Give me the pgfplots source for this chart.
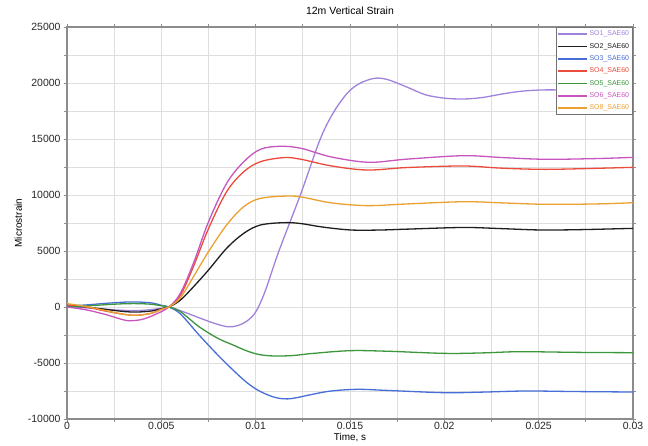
\documentclass[border=0pt]{standalone}
\usepackage{fontspec}
\setmainfont{Liberation Sans}
\usepackage{pgfplots}
\pgfplotsset{compat=1.18}
\definecolor{cSOa}{RGB}{160,130,220}
\definecolor{cSOb}{RGB}{30,30,30}
\definecolor{cSOc}{RGB}{70,110,215}
\definecolor{cSOd}{RGB}{235,75,60}
\definecolor{cSOe}{RGB}{60,150,60}
\definecolor{cSOf}{RGB}{200,85,190}
\definecolor{cSOg}{RGB}{235,160,50}
\begin{document}
\begin{tikzpicture}
\begin{axis}[
  width=566bp, height=392bp, scale only axis,
  xmin=0, xmax=0.03, ymin=-10000, ymax=25000,
  xtick={0,0.005,0.01,0.015,0.02,0.025,0.03},
  xticklabels={0,0.005,0.01,0.015,0.02,0.025,0.03},
  scaled x ticks=false, scaled y ticks=false,
  minor xtick={0.0025,0.0075,0.0125,0.0175,0.0225,0.0275},
  ytick={-10000,-5000,0,5000,10000,15000,20000,25000},
  yticklabels={-10000,-5000,0,5000,10000,15000,20000,25000},
  minor ytick={-7500,-2500,2500,7500,12500,17500,22500},
  grid=both,
  major grid style={draw=black!13, line width=0.8bp},
  minor grid style={draw=black!13, line width=0.8bp},
  extra y ticks={0}, extra y tick labels={},
  extra y tick style={grid style={draw=black!50, line width=1.2bp}, major tick length=0pt},
  axis line style={draw=black!45, line width=1.2bp},
  tick style={draw=black!45, line width=0.8bp},
  tick align=outside, major tick length=3bp,
  tick label style={font=\fontsize{10.5}{10.5}\selectfont, text=black!85},
  xticklabel style={yshift=3bp},
  title={12m Vertical Strain},
  title style={font=\fontsize{10.5}{11}\selectfont, at={(0.5,1)}, anchor=south, yshift=3bp},
  xlabel={Time, s},
  xlabel style={font=\fontsize{10}{10}\selectfont, yshift=3.5bp},
  ylabel={Microstrain},
  ylabel style={font=\fontsize{10}{10}\selectfont, yshift=-4bp},
  legend cell align=left,
  legend style={at={(rel axis cs:1,1)}, anchor=north east, font=\fontsize{7}{7}\selectfont,
    draw=black!55, line width=0.8bp, fill=white, inner sep=1.5bp, row sep=2bp},
  legend image code/.code={\draw[#1, line width=1.5bp] (0cm,0cm) -- (1.0cm,0cm);},
  every axis plot/.append style={line width=1.3bp, smooth, tension=0.55},
]
\addplot[cSOa] coordinates {
(0,0) (0.001,-80) (0.002,-200) (0.003,-300) (0.004,-300) (0.005,-120) (0.0054,0)
(0.00616,-420) (0.00706,-1000) (0.0078,-1450) (0.0085,-1760) (0.009,-1680) (0.0095,-1300)
(0.01,-450) (0.0105,1400) (0.01122,4940) (0.0124,10150) (0.0134,14900) (0.0141,17300)
(0.01485,19080) (0.0155,19950)
(0.0163,20420) (0.017,20300) (0.018,19650) (0.019,18950)
(0.02,18650) (0.021,18570) (0.022,18700) (0.023,19000) (0.024,19250) (0.025,19370)
(0.026,19380) (0.027,19300) (0.028,19250) (0.03,19300)};
\addlegendentry{\textcolor{cSOa}{SO1\_SAE60}}
\addplot[cSOb] coordinates {
(0,100) (0.001,0) (0.002,-200) (0.003,-400) (0.0037,-450) (0.0045,-350) (0.005,-150) (0.0054,0)
(0.006,600) (0.0067,1800) (0.0075,3300) (0.00846,5240) (0.00937,6580) (0.01025,7320)
(0.0115,7530) (0.0124,7450) (0.0135,7150) (0.015,6880) (0.0165,6870) (0.018,6950)
(0.021,7100) (0.023,7000) (0.025,6880) (0.027,6900) (0.03,7020)};
\addlegendentry{\textcolor{cSOb}{SO2\_SAE60}}
\addplot[cSOc] coordinates {
(0,100) (0.001,180) (0.002,320) (0.003,430) (0.0037,450) (0.0045,360) (0.005,150) (0.0054,0)
(0.006,-600) (0.007,-2500) (0.008,-4300) (0.0088,-5630) (0.0095,-6700) (0.0101,-7410)
(0.0108,-7950) (0.0114,-8190) (0.012,-8150) (0.013,-7800) (0.014,-7500) (0.0154,-7350)
(0.017,-7450) (0.02,-7650) (0.022,-7600) (0.0243,-7500) (0.027,-7550) (0.03,-7590)};
\addlegendentry{\textcolor{cSOc}{SO3\_SAE60}}
\addplot[cSOd] coordinates {
(0,200) (0.001,0) (0.002,-350) (0.003,-650) (0.0037,-740) (0.0045,-550) (0.005,-200) (0.0054,0)
(0.006,1000) (0.0067,3600) (0.0075,7000) (0.00846,10290) (0.00937,12080) (0.01025,12970)
(0.0115,13340) (0.0124,13190) (0.014,12600) (0.0159,12230) (0.018,12450)
(0.021,12590) (0.023,12400) (0.0253,12290) (0.028,12380) (0.03,12470)};
\addlegendentry{\textcolor{cSOd}{SO4\_SAE60}}
\addplot[cSOe] coordinates {
(0,0) (0.001,90) (0.002,200) (0.003,290) (0.0038,300) (0.0045,240) (0.005,110) (0.0054,0)
(0.006,-400) (0.007,-1760) (0.008,-2800) (0.0088,-3390) (0.0095,-3900) (0.0102,-4250)
(0.011,-4375) (0.012,-4330) (0.013,-4150) (0.015,-3900) (0.017,-3950) (0.02,-4140)
(0.022,-4100) (0.024,-3990) (0.027,-4050) (0.03,-4080)};
\addlegendentry{\textcolor{cSOe}{SO5\_SAE60}}
\addplot[cSOf] coordinates {
(0,0) (0.001,-250) (0.002,-650) (0.003,-1150) (0.0034,-1220) (0.004,-1100) (0.0047,-650) (0.0054,0)
(0.006,1200) (0.0067,3900) (0.0075,7600) (0.00846,11040) (0.00937,12970) (0.01025,14080)
(0.0113,14350) (0.0124,14170) (0.014,13400) (0.016,12920)
(0.018,13200) (0.021,13510) (0.023,13350) (0.0253,13190) (0.028,13250) (0.03,13360)};
\addlegendentry{\textcolor{cSOf}{SO6\_SAE60}}
\addplot[cSOg] coordinates {
(0,300) (0.001,50) (0.002,-300) (0.003,-650) (0.0037,-740) (0.0045,-550) (0.005,-200) (0.0054,0)
(0.006,800) (0.0067,2700) (0.0075,4940) (0.00846,7320) (0.00937,8960) (0.01025,9700)
(0.0117,9910) (0.0125,9800) (0.014,9300) (0.0159,9050) (0.018,9200) (0.021,9400)
(0.023,9300) (0.0253,9170) (0.028,9200) (0.03,9310)};
\addlegendentry{\textcolor{cSOg}{SO8\_SAE60}}
\end{axis}
\path (current axis.south west) ++(-67bp,-27bp) rectangle ++(648bp,446bp);
\end{tikzpicture}
\end{document}
